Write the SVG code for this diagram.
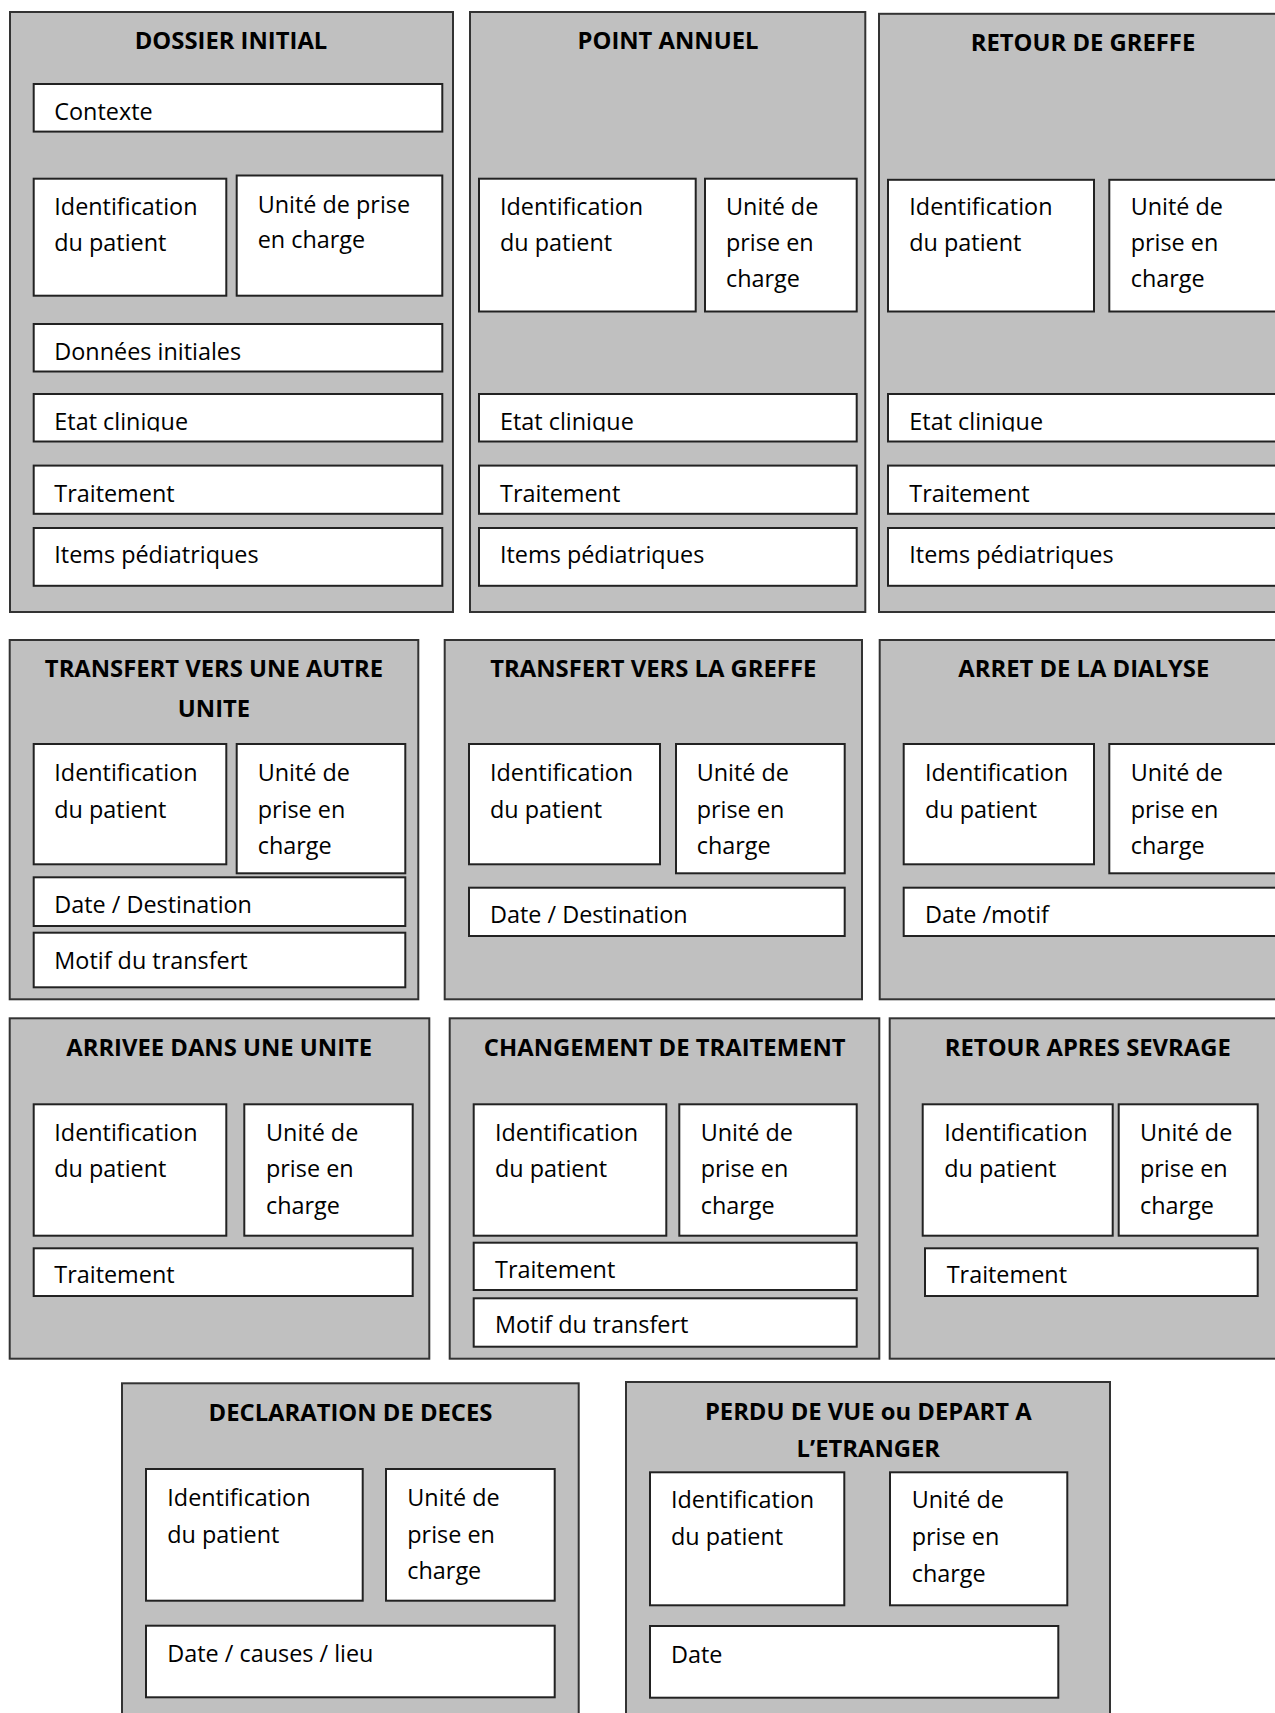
<svg xmlns="http://www.w3.org/2000/svg" width="1275" height="1713" viewBox="0 0 1275 1713">
<style>
.p{fill:#c0c0c0;stroke:#333;stroke-width:2}
.b{fill:#fff;stroke:#222;stroke-width:2}
text{font-family:"Open Sans","DejaVu Sans",sans-serif;font-size:23.4px;fill:#000}
.t{font-weight:700;text-anchor:middle;font-size:23.8px}
</style>
<defs>
<clipPath id="clipEtat" clipPathUnits="userSpaceOnUse"><rect x="0" y="394" width="1275" height="37.5"/></clipPath>
</defs>
<rect width="1275" height="1713" fill="#fff"/>
<g id="dossier-initial">
<rect class="p" x="10" y="12" width="443" height="600"/>
<text class="t" x="231" y="49">DOSSIER INITIAL</text>
<rect class="b" x="33.7" y="84" width="408.6" height="47.6"/>
<text x="54.3" y="120">Contexte</text>
<rect class="b" x="33.7" y="178.7" width="192.6" height="117"/>
<text x="54.3" y="215.4">Identification</text>
<text x="54.3" y="251">du patient</text>
<rect class="b" x="236.7" y="175.5" width="205.6" height="120.2"/>
<text x="257.7" y="212.6">Unité de prise</text>
<text x="257.7" y="248">en charge</text>
<rect class="b" x="33.7" y="324" width="408.6" height="47.5"/>
<text x="54.3" y="359.7">Données initiales</text>
<rect class="b" x="33.7" y="394" width="408.6" height="47.5"/>
<text x="54.3" y="430" clip-path="url(#clipEtat)">Etat clinique</text>
<rect class="b" x="33.7" y="465.6" width="408.6" height="48.2"/>
<text x="54.3" y="502">Traitement</text>
<rect class="b" x="33.7" y="528" width="408.6" height="57.8"/>
<text x="54.3" y="563">Items pédiatriques</text>
</g>
<g id="point-annuel">
<rect class="p" x="470" y="12" width="395.3" height="600"/>
<text class="t" x="668" y="49">POINT ANNUEL</text>
<rect class="b" x="479" y="178.7" width="216.7" height="132.8"/>
<text x="500" y="215.4">Identification</text>
<text x="500" y="251">du patient</text>
<rect class="b" x="705" y="178.7" width="151.7" height="132.8"/>
<text x="726" y="215.4">Unité de</text>
<text x="726" y="251">prise en</text>
<text x="726" y="286.6">charge</text>
<rect class="b" x="479" y="394" width="377.7" height="47.5"/>
<text x="500" y="430" clip-path="url(#clipEtat)">Etat clinique</text>
<rect class="b" x="479" y="465.6" width="377.7" height="48.2"/>
<text x="500" y="502">Traitement</text>
<rect class="b" x="479" y="528" width="377.7" height="57.8"/>
<text x="500" y="563">Items pédiatriques</text>
</g>
<g id="retour-de-greffe">
<rect class="p" x="879" y="13.8" width="410" height="598.2"/>
<text class="t" x="1083" y="50.6">RETOUR DE GREFFE</text>
<rect class="b" x="888" y="179.8" width="206" height="131.7"/>
<text x="909.3" y="215.4">Identification</text>
<text x="909.3" y="251">du patient</text>
<rect class="b" x="1109.3" y="179.8" width="180" height="131.7"/>
<text x="1130.7" y="215.4">Unité de</text>
<text x="1130.7" y="251">prise en</text>
<text x="1130.7" y="286.6">charge</text>
<rect class="b" x="888" y="394" width="400" height="47.5"/>
<text x="909.3" y="430" clip-path="url(#clipEtat)">Etat clinique</text>
<rect class="b" x="888" y="465.6" width="400" height="48.2"/>
<text x="909.3" y="502">Traitement</text>
<rect class="b" x="888" y="528" width="400" height="57.8"/>
<text x="909.3" y="563">Items pédiatriques</text>
</g>
<g id="transfert-autre-unite">
<rect class="p" x="9.7" y="640" width="408.6" height="359.3"/>
<text class="t" x="214" y="676.7">TRANSFERT VERS UNE AUTRE</text>
<text class="t" x="214" y="717.3">UNITE</text>
<rect class="b" x="33.7" y="744" width="192.6" height="120.3"/>
<text x="54.3" y="780.7">Identification</text>
<text x="54.3" y="817.7">du patient</text>
<rect class="b" x="236.7" y="744" width="168.6" height="129.3"/>
<text x="257.7" y="780.7">Unité de</text>
<text x="257.7" y="817.7">prise en</text>
<text x="257.7" y="854">charge</text>
<rect class="b" x="33.7" y="877.3" width="371.6" height="48.7"/>
<text x="54.3" y="913.3">Date / Destination</text>
<rect class="b" x="33.7" y="932.7" width="371.6" height="54.6"/>
<text x="54.3" y="969.3">Motif du transfert</text>
</g>
<g id="transfert-greffe">
<rect class="p" x="444.7" y="640" width="417.3" height="359.3"/>
<text class="t" x="653.3" y="676.7">TRANSFERT VERS LA GREFFE</text>
<rect class="b" x="469" y="744" width="191" height="120.3"/>
<text x="490" y="780.7">Identification</text>
<text x="490" y="817.7">du patient</text>
<rect class="b" x="676" y="744" width="168.7" height="129.3"/>
<text x="696.7" y="780.7">Unité de</text>
<text x="696.7" y="817.7">prise en</text>
<text x="696.7" y="854">charge</text>
<rect class="b" x="469" y="887.7" width="375.7" height="48.3"/>
<text x="490" y="923.3">Date / Destination</text>
</g>
<g id="arret-dialyse">
<rect class="p" x="879.7" y="640" width="410" height="359.3"/>
<text class="t" x="1083.8" y="676.7">ARRET DE LA DIALYSE</text>
<rect class="b" x="903.7" y="744" width="190.3" height="120.3"/>
<text x="925" y="780.7">Identification</text>
<text x="925" y="817.7">du patient</text>
<rect class="b" x="1109.3" y="744" width="180" height="129.3"/>
<text x="1130.7" y="780.7">Unité de</text>
<text x="1130.7" y="817.7">prise en</text>
<text x="1130.7" y="854">charge</text>
<rect class="b" x="903.7" y="887.7" width="390" height="48.3"/>
<text x="925" y="923.3">Date /motif</text>
</g>
<g id="arrivee-unite">
<rect class="p" x="9.7" y="1018.3" width="419.6" height="340.4"/>
<text class="t" x="219.2" y="1055.7">ARRIVEE DANS UNE UNITE</text>
<rect class="b" x="33.7" y="1104.3" width="192.6" height="131.4"/>
<text x="54.3" y="1140.7">Identification</text>
<text x="54.3" y="1177.3">du patient</text>
<rect class="b" x="244.3" y="1104.3" width="168.4" height="131.4"/>
<text x="266" y="1140.7">Unité de</text>
<text x="266" y="1177.3">prise en</text>
<text x="266" y="1214">charge</text>
<rect class="b" x="33.7" y="1248.3" width="379" height="47.7"/>
<text x="54.3" y="1283.3">Traitement</text>
</g>
<g id="changement-traitement">
<rect class="p" x="449.7" y="1018.3" width="429.6" height="340.4"/>
<text class="t" x="664.7" y="1055.7">CHANGEMENT DE TRAITEMENT</text>
<rect class="b" x="473.7" y="1104.3" width="192.6" height="131.4"/>
<text x="495" y="1140.7">Identification</text>
<text x="495" y="1177.3">du patient</text>
<rect class="b" x="679.3" y="1104.3" width="177.4" height="131.4"/>
<text x="700.7" y="1140.7">Unité de</text>
<text x="700.7" y="1177.3">prise en</text>
<text x="700.7" y="1214">charge</text>
<rect class="b" x="473.7" y="1242.7" width="383" height="47.3"/>
<text x="495" y="1278.3">Traitement</text>
<rect class="b" x="473.7" y="1298.3" width="383" height="48.4"/>
<text x="495" y="1333.3">Motif du transfert</text>
</g>
<g id="retour-apres-sevrage">
<rect class="p" x="889.7" y="1018.3" width="400" height="340.4"/>
<text class="t" x="1087.8" y="1055.7">RETOUR APRES SEVRAGE</text>
<rect class="b" x="922.7" y="1104.3" width="190" height="131.4"/>
<text x="944.3" y="1140.7">Identification</text>
<text x="944.3" y="1177.3">du patient</text>
<rect class="b" x="1118.7" y="1104.3" width="139" height="131.4"/>
<text x="1140" y="1140.7">Unité de</text>
<text x="1140" y="1177.3">prise en</text>
<text x="1140" y="1214">charge</text>
<rect class="b" x="925" y="1248.3" width="332.7" height="47.7"/>
<text x="946.7" y="1283.3">Traitement</text>
</g>
<g id="declaration-deces">
<rect class="p" x="122" y="1383.3" width="456.7" height="340"/>
<text class="t" x="350.5" y="1420.7">DECLARATION DE DECES</text>
<rect class="b" x="146" y="1469" width="216.7" height="131.7"/>
<text x="167.3" y="1506">Identification</text>
<text x="167.3" y="1542.7">du patient</text>
<rect class="b" x="386" y="1469" width="168.7" height="131.7"/>
<text x="407.3" y="1506">Unité de</text>
<text x="407.3" y="1542.7">prise en</text>
<text x="407.3" y="1579.3">charge</text>
<rect class="b" x="146" y="1625.7" width="408.7" height="71.6"/>
<text x="167.3" y="1661.7">Date / causes / lieu</text>
</g>
<g id="perdu-de-vue">
<rect class="p" x="626" y="1382" width="484" height="340"/>
<text class="t" x="868.3" y="1420">PERDU DE VUE ou DEPART A</text>
<text class="t" x="868.3" y="1457.3">L’ETRANGER</text>
<rect class="b" x="650" y="1472.3" width="194.3" height="133"/>
<text x="671" y="1508.3">Identification</text>
<text x="671" y="1545">du patient</text>
<rect class="b" x="890" y="1472.3" width="177.3" height="133"/>
<text x="911.7" y="1508.3">Unité de</text>
<text x="911.7" y="1545">prise en</text>
<text x="911.7" y="1581.7">charge</text>
<rect class="b" x="650" y="1626" width="408.3" height="71.7"/>
<text x="671" y="1663.3">Date</text>
</g>
<g id="connectors"/>
</svg>
